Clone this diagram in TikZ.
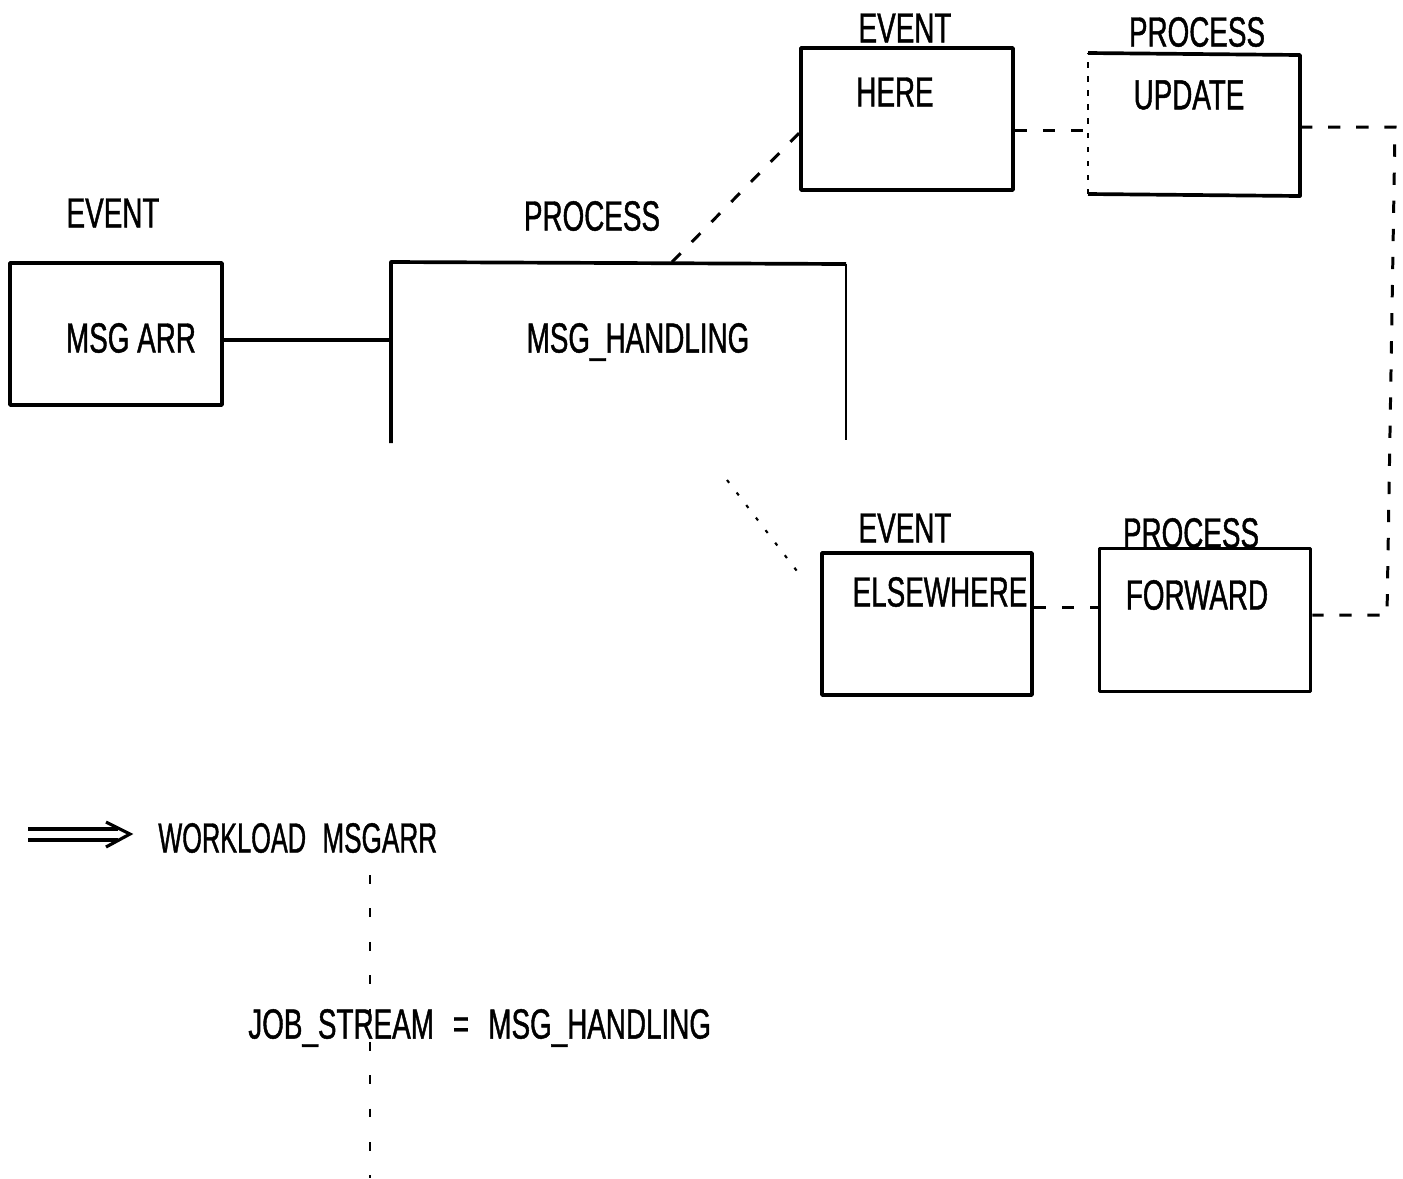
\documentclass[tikz,border=0pt]{standalone}
\usepackage{fontspec}
\setmainfont{Liberation Sans}[FakeStretch=0.66,FakeBold=1]
\begin{document}
\begin{tikzpicture}[x=0.02cm,y=-0.02cm,
  txt/.style={font=\fontsize{24}{28}\selectfont, inner sep=0pt},
  boxline/.style={line width=2.1pt, line join=round},
  conn/.style={line width=1.7pt, dash pattern=on 7pt off 9pt},
  dotconn/.style={line width=1.2pt, dash pattern=on 2pt off 7pt}]
\useasboundingbox (0,0) rectangle (1403,1178);

% MSG ARR event
\node[txt] (lEv1) at (113,213) {EVENT};
\node[boxline, draw, minimum width=212*0.02cm, minimum height=142*0.02cm, inner sep=0pt] (msgarr) at (116,334) {};
\node[txt] (tMsgArr) at (131,338) {MSG ARR};

% MSG_HANDLING open box
\node[txt] (lPr1) at (592,216) {PROCESS};
\coordinate (mhTL) at (391,262);
\coordinate (mhTR) at (846,264);
\coordinate (mhBL) at (391,443);
\coordinate (mhBR) at (846,440);
\draw[boxline] (mhBL) -- (mhTL) -- (mhTR);
\draw[line width=1.3pt] (mhTR) -- (mhBR);
\node[txt] (tMH) at (638,342) {MSG\_HANDLING};
\coordinate (mhLeft) at (391,340);
\coordinate (mhTop) at (672,262);
\coordinate (mhLow) at (727,480);

% HERE event
\node[txt] (lEv2) at (905,28) {EVENT};
\node[boxline, draw, minimum width=212*0.02cm, minimum height=142*0.02cm, inner sep=0pt] (here) at (907,119) {};
\node[txt] (tHere) at (895,92) {HERE};

% UPDATE process
\node[txt] (lPr2) at (1197,32) {PROCESS};
\coordinate (upTL) at (1088,53);
\coordinate (upTR) at (1300,55);
\coordinate (upBR) at (1300,196);
\coordinate (upBL) at (1088,194);
\draw[boxline] (upTL) -- (upTR) -- (upBR) -- (upBL);
\draw[line width=1.3pt, dash pattern=on 3pt off 5pt] (upBL) -- (upTL);
\node[txt] (tUpd) at (1189,95) {UPDATE};

% ELSEWHERE event
\node[txt] (lEv3) at (905,528) {EVENT};
\node[boxline, draw, minimum width=210*0.02cm, minimum height=142*0.02cm, inner sep=0pt] (else) at (927,624) {};
\node[txt] (tElse) at (940,592) {ELSEWHERE};

% FORWARD process
\node[txt] (lPr3) at (1191,533) {PROCESS};
\node[boxline, draw, minimum width=211*0.02cm, minimum height=143*0.02cm, inner sep=0pt] (fwd) at (1205,620) {};
\node[txt] (tFwd) at (1197,595) {FORWARD};

% connectors
\draw[line width=2pt] (msgarr.east |- mhLeft) -- (mhLeft);
\draw[conn] (mhTop) -- (here.west |- 0,133);
\draw[conn] (here.east |- 0,130) -- (upTL |- 0,130);
\coordinate (rTop) at (1395,127);
\coordinate (rBot) at (1387,615);
\draw[conn] (upTR |- rTop) -- (rTop) -- (rBot) -- (fwd.east |- rBot);
\draw[conn] (else.east |- 0,607) -- (fwd.west |- 0,607);
\coordinate (elsePt) at (800,575);
\draw[dotconn] (mhLow) -- (elsePt);

% workload arrow
\coordinate (a1) at (28,829);
\coordinate (a2) at (118,829);
\coordinate (a3) at (28,840);
\coordinate (a4) at (118,840);
\coordinate (c1) at (106,822);
\coordinate (c2) at (130,834);
\coordinate (c3) at (106,847);
\draw[line width=1.8pt] (a1) -- (a2) (a3) -- (a4);
\draw[line width=1.8pt, line join=miter] (c1) -- (c2) -- (c3);
\node[txt, anchor=west] (tWork) at (158,838) {\scalebox{0.91}[1]{WORKLOAD}};
\node[txt, anchor=west] (tMsgarr2) at (322,838) {\scalebox{0.94}[1]{MSGARR}};

% job stream
\coordinate (v1) at (370,875);
\coordinate (v2) at (370,1178);
\draw[line width=1.3pt, dash pattern=on 5pt off 14pt] (v1) -- (v2);
\node[txt, anchor=west] (tJob) at (248,1028) {JOB\_STREAM};
\node[txt] (tEq) at (461,1028) {=};
\node[txt, anchor=west] (tJobMH) at (488,1028) {MSG\_HANDLING};
\end{tikzpicture}
\end{document}
